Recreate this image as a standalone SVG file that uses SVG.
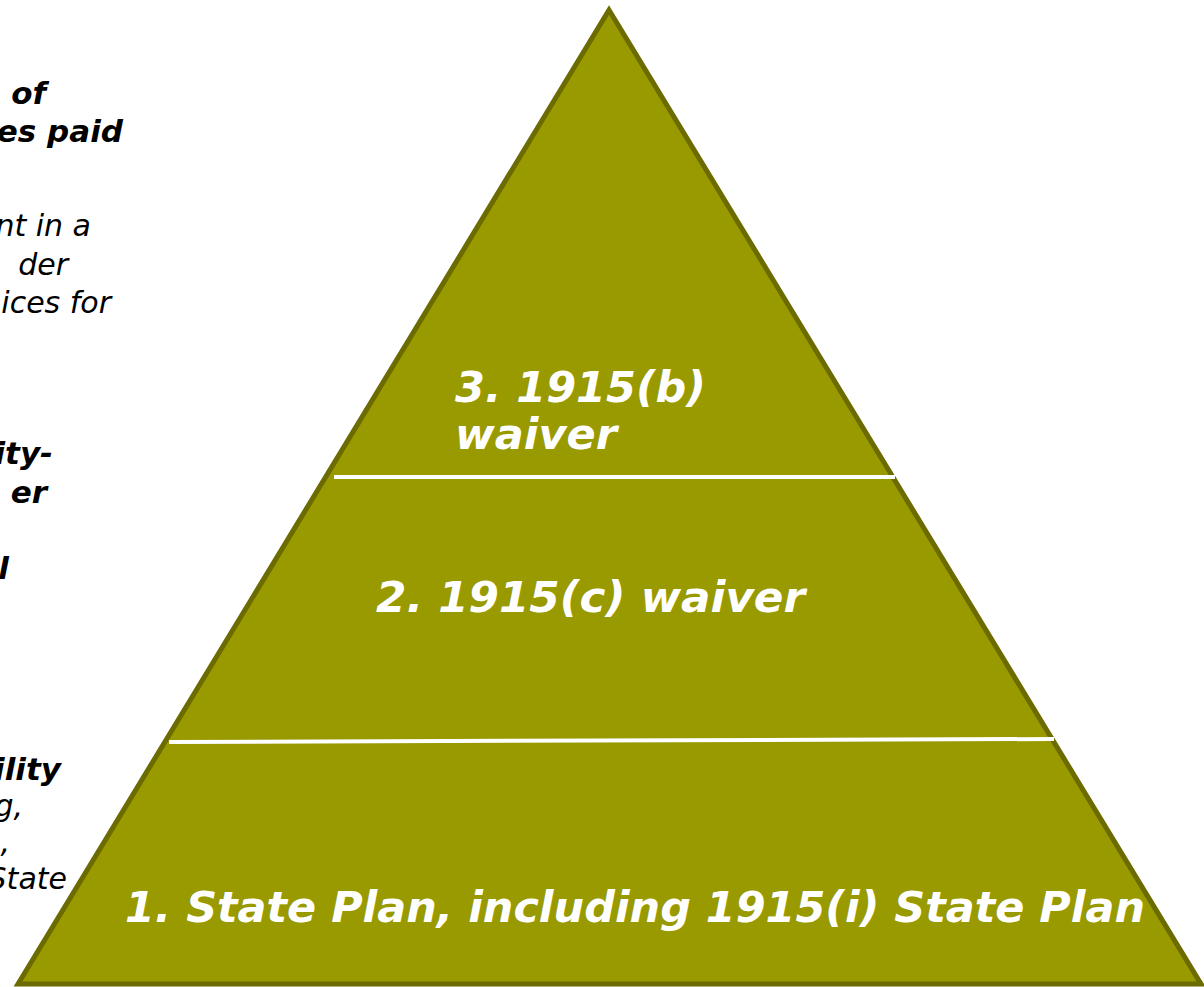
<svg xmlns="http://www.w3.org/2000/svg" width="1204" height="987" viewBox="0 0 1204 987">
<style>
.side{font-family:"DejaVu Sans","Verdana",sans-serif;font-style:italic;font-size:30px;fill:#000;text-anchor:end}
.b{font-weight:bold;font-size:31px}
.tier{font-family:"DejaVu Sans","Verdana",sans-serif;font-style:italic;font-weight:bold;font-size:43px;fill:#fff}
.div{stroke:#fff;stroke-width:4;fill:none}
</style>
<rect width="1204" height="987" fill="#fff"/>
<g id="side-text">
<text class="side b" x="46" y="104">of</text>
<text class="side b" x="123" y="142">es paid</text>
<text class="side" x="91" y="236">nt in a</text>
<text class="side" x="68" y="275">der</text>
<text class="side" x="111" y="313">ices for</text>
<text class="side b" x="53" y="464">ity-</text>
<text class="side b" x="47" y="503">er</text>
<text class="side b" x="9" y="579">l</text>
<text class="side b" x="61" y="780">ility</text>
<text class="side" x="23" y="816">g,</text>
<text class="side" x="10" y="852">,</text>
<text class="side" x="67" y="889">State</text>
</g>
<g id="pyramid">
<polygon points="609,10 18,984 1201,984" fill="#999900" stroke="#6B6B00" stroke-width="5" stroke-linejoin="miter"/>
</g>
<g id="dividers">
<line class="div" x1="334" y1="477" x2="895" y2="477"/>
<line class="div" x1="169" y1="742" x2="1054" y2="739"/>
</g>
<g id="tier3">
<text class="tier" x="455" y="402" textLength="251" lengthAdjust="spacingAndGlyphs">3.  1915(b)</text>
<text class="tier" x="455" y="449">waiver</text>
</g>
<g id="tier2">
<text class="tier" x="376" y="612" textLength="429" lengthAdjust="spacingAndGlyphs">2. 1915(c) waiver</text>
</g>
<g id="tier1">
<text class="tier" x="125" y="922" textLength="1020" lengthAdjust="spacingAndGlyphs">1.  State Plan, including 1915(i) State Plan</text>
</g>
</svg>
